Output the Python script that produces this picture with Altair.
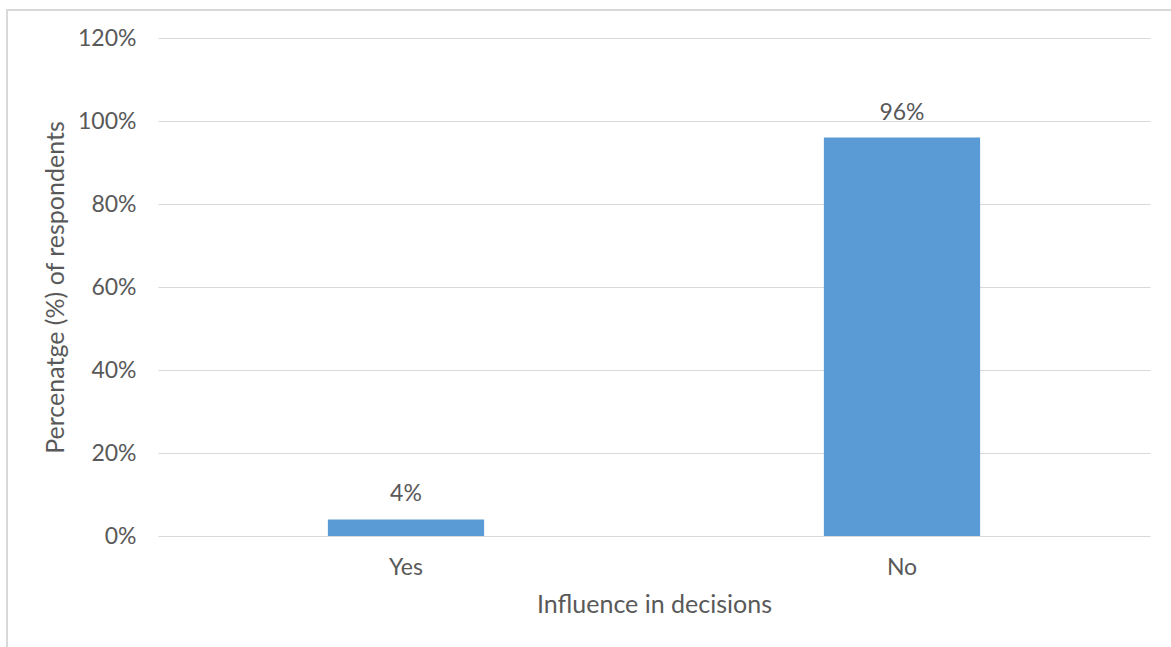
import altair as alt
import pandas as pd

categories = ["Yes", "No"]
values = [0.04, 0.96]
labels = ["4%", "96%"]

df = pd.DataFrame({"category": categories, "value": values, "label": labels})

FONT = "Lato"
TXT = "#595959"

x_enc = alt.X(
    "category:N",
    sort=categories,
    scale=alt.Scale(paddingInner=0.685, paddingOuter=0.3425),
    axis=alt.Axis(
        title="Influence in decisions",
        labelAngle=0,
        labelFont=FONT,
        labelFontSize=23,
        labelColor=TXT,
        labelPadding=20,
        titleFont=FONT,
        titleFontSize=25,
        titleColor=TXT,
        titleFontWeight="normal",
        titlePadding=13,
        ticks=False,
        domain=False,
    ),
)
y_enc = alt.Y(
    "value:Q",
    scale=alt.Scale(domain=[0, 1.2], nice=False),
    axis=alt.Axis(
        title="Percenatge (%) of respondents",
        format=".0%",
        values=[0, 0.2, 0.4, 0.6, 0.8, 1.0, 1.2],
        labelFont=FONT,
        labelFontSize=23,
        labelColor=TXT,
        labelPadding=22,
        titleFont=FONT,
        titleFontSize=25,
        titleColor=TXT,
        titleFontWeight="normal",
        titlePadding=9,
        ticks=False,
        domain=False,
        grid=True,
        gridColor="#D9D9D9",
        gridWidth=1,
    ),
)

frame = alt.Chart(df).mark_rect(
    fill=None, stroke="#D9D9D9", strokeWidth=2
).encode(
    x=alt.value(-151), x2=alt.value(1040), y=alt.value(-28), y2=alt.value(640)
)

bars = alt.Chart(df).mark_bar(color="#5B9BD5").encode(x=x_enc, y=y_enc)

text = alt.Chart(df).mark_text(
    font=FONT, fontSize=23, color=TXT, dy=-25, baseline="middle"
).encode(
    x=alt.X("category:N", sort=categories),
    y="value:Q",
    text="label:N",
)

chart = (
    alt.layer(frame, bars, text)
    .properties(
        width=992,
        height=498,
        autosize=alt.AutoSizeParams(type="none"),
        padding={"left": 158, "top": 38, "right": 21, "bottom": 111},
        background="white",
    )
    .configure_view(stroke=None)
)

chart.save("out.html", embed_options={"renderer": "svg", "actions": False})
